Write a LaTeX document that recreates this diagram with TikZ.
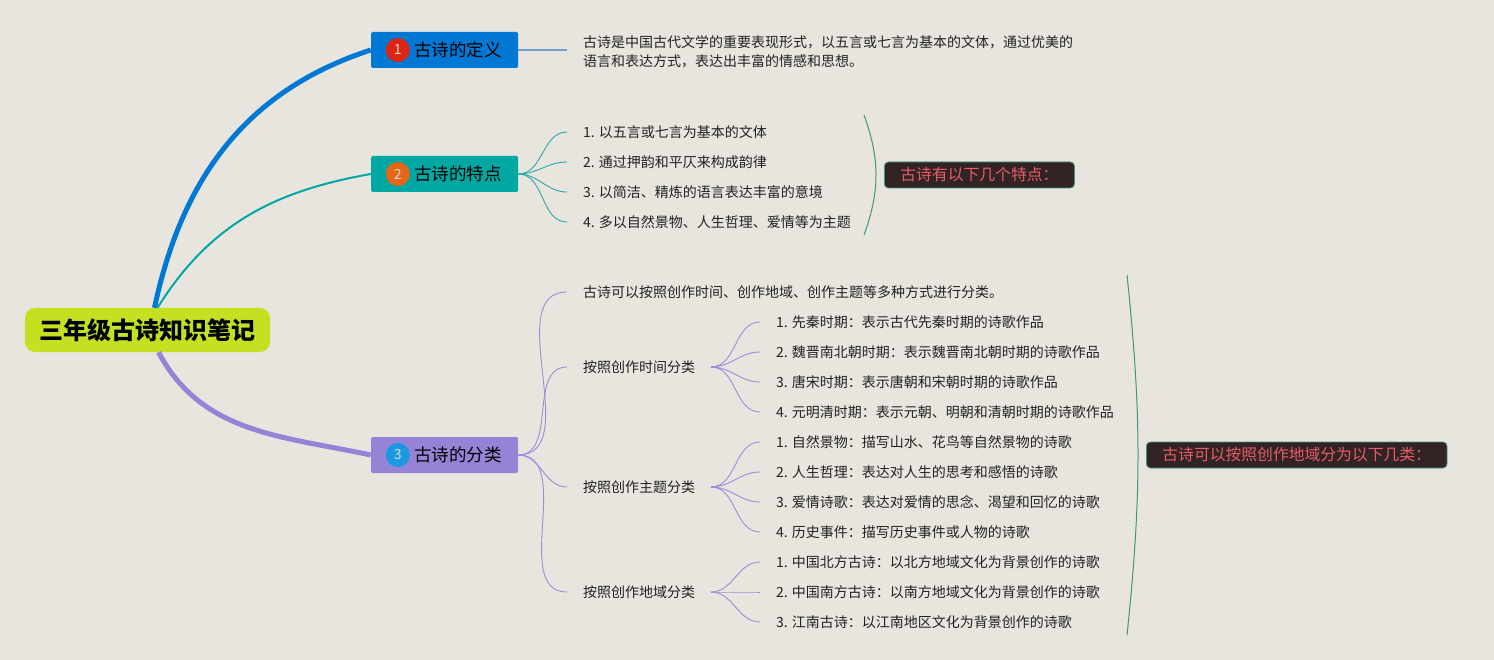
\documentclass[tikz,border=0pt]{standalone}
\usepackage{fontspec}
\setmainfont{Noto Sans CJK SC}
\usepackage{xcolor}
\usetikzlibrary{positioning,shapes}
\definecolor{paper}{RGB}{231,229,222}
\definecolor{lime}{RGB}{196,224,32}
\definecolor{blueA}{RGB}{0,120,212}
\definecolor{tealA}{RGB}{0,168,163}
\definecolor{purpleA}{RGB}{150,131,214}
\definecolor{redA}{RGB}{222,36,18}
\definecolor{orangeA}{RGB}{228,102,22}
\definecolor{skyA}{RGB}{28,152,226}
\definecolor{ink}{RGB}{34,34,34}
\definecolor{darkbox}{RGB}{50,36,36}
\definecolor{pinktext}{RGB}{232,92,104}
\definecolor{bracketc}{RGB}{64,150,124}
\definecolor{defline}{RGB}{110,160,205}
\definecolor{tealT}{RGB}{40,170,170}
\definecolor{purpleT}{RGB}{155,140,220}
\tikzset{
	every picture/.style={x=1pt, y=-1pt},
	every node/.style = {inner sep = 3, text=ink},
	root/.style = {fill=lime, rounded corners=10pt, minimum width=245pt, minimum height=44pt, font=\fontsize{24}{24}\selectfont\bfseries, text=black},
	branch/.style = {fill=#1, rounded corners=1.5pt, minimum width=147pt, minimum height=36pt, inner xsep=16pt, font=\fontsize{17.5}{17.5}\selectfont, text=black},
	badge/.style = {circle, fill=#1, minimum size=24pt, inner sep=0pt, font=\fontsize{14}{14}\selectfont, text=black!15},
	leaf/.style = {inner xsep=16pt, inner ysep=0pt, outer sep=0pt, minimum height=30pt, font=\fontsize{14}{17}\selectfont},
	sumbox/.style = {fill=darkbox, draw=bracketc, line width=0.8pt, rounded corners=4pt, minimum height=26pt, inner xsep=16pt, inner ysep=0pt, font=\fontsize{15.8}{16}\selectfont, text=pinktext},
	fan/.style = {draw=#1, line width=0.9pt},
}

\begin{document}
\begin{tikzpicture}
		\fill[paper] (0,0) rectangle (1494,660);
		\useasboundingbox (0,0) rectangle (1494,660);

		\node[root] (root) at (147.5,330) {三年级古诗知识笔记};
		\node[branch=blueA] (b1) at (444.5,50) {\hspace{27pt}古诗的定义};
		\node[branch=tealA] (b2) at (444.5,174) {\hspace{27pt}古诗的特点};
		\node[branch=purpleA] (b3) at (444.5,455) {\hspace{27pt}古诗的分类};
		\node[badge=redA] (n1) at ([xshift=27pt]b1.west) {1};
		\node[badge=orangeA] (n2) at ([xshift=27pt]b2.west) {2};
		\node[badge=skyA] (n3) at ([xshift=27pt]b3.west) {3};

		\draw[blueA, line width=5pt] ([xshift=7pt]root.north) to[out=78,in=198] (b1.west);
		\draw[tealA, line width=2pt] ([xshift=10pt]root.north) to[out=58,in=190] (b2.west);
		\draw[purpleA, line width=5pt] ([xshift=11pt]root.south) to[out=-62,in=168] (b3.west);

		\node[leaf, anchor=west, align=left, font=\fontsize{14}{19}\selectfont] (def) at (567,52) {古诗是中国古代文学的重要表现形式，以五言或七言为基本的文体，通过优美的\\语言和表达方式，表达出丰富的情感和思想。};
		\draw[defline, line width=1.5pt] (b1.east) -- (b1.east -| def.west);

		\node[leaf, anchor=west] (f1) at (567,132) {1. 以五言或七言为基本的文体};
		\node[leaf, below=0pt of f1.south west, anchor=north west] (f2) {2. 通过押韵和平仄来构成韵律};
		\node[leaf, below=0pt of f2.south west, anchor=north west] (f3) {3. 以简洁、精炼的语言表达丰富的意境};
		\node[leaf, below=0pt of f3.south west, anchor=north west] (f4) {4. 多以自然景物、人生哲理、爱情等为主题};
		\foreach \i in {1,...,4}
			\draw[fan=tealT] (b2.east) to[out=0,in=180] (f\i.west);

		\coordinate (k1a) at (864,115);
		\coordinate (k1b) at (864,235);
		\draw[bracketc, line width=1pt] (k1a) to[out=-70,in=70] (k1b);
		\node[sumbox, anchor=west] (s1) at (884,175) {古诗有以下几个特点：};

		\node[leaf, anchor=west] (c1) at (567,292) {古诗可以按照创作时间、创作地域、创作主题等多种方式进行分类。};
		\node[leaf, anchor=west] (g1) at (567,367) {按照创作时间分类};
		\node[leaf, anchor=west] (g2) at (567,487) {按照创作主题分类};
		\node[leaf, anchor=west] (g3) at (567,592) {按照创作地域分类};
		\foreach \g in {c1,g1,g2,g3}
			\draw[fan=purpleT] (b3.east) to[out=0,in=180] (\g.west);

		\node[leaf, anchor=west] (t1) at (760,322) {1. 先秦时期：表示古代先秦时期的诗歌作品};
		\node[leaf, below=0pt of t1.south west, anchor=north west] (t2) {2. 魏晋南北朝时期：表示魏晋南北朝时期的诗歌作品};
		\node[leaf, below=0pt of t2.south west, anchor=north west] (t3) {3. 唐宋时期：表示唐朝和宋朝时期的诗歌作品};
		\node[leaf, below=0pt of t3.south west, anchor=north west] (t4) {4. 元明清时期：表示元朝、明朝和清朝时期的诗歌作品};
		\node[leaf, below=0pt of t4.south west, anchor=north west] (t5) {1. 自然景物：描写山水、花鸟等自然景物的诗歌};
		\node[leaf, below=0pt of t5.south west, anchor=north west] (t6) {2. 人生哲理：表达对人生的思考和感悟的诗歌};
		\node[leaf, below=0pt of t6.south west, anchor=north west] (t7) {3. 爱情诗歌：表达对爱情的思念、渴望和回忆的诗歌};
		\node[leaf, below=0pt of t7.south west, anchor=north west] (t8) {4. 历史事件：描写历史事件或人物的诗歌};
		\node[leaf, below=0pt of t8.south west, anchor=north west] (t9) {1. 中国北方古诗：以北方地域文化为背景创作的诗歌};
		\node[leaf, below=0pt of t9.south west, anchor=north west] (t10) {2. 中国南方古诗：以南方地域文化为背景创作的诗歌};
		\node[leaf, below=0pt of t10.south west, anchor=north west] (t11) {3. 江南古诗：以江南地区文化为背景创作的诗歌};
		\foreach \i in {1,...,4}
			\draw[fan=purpleT] (g1.east) to[out=0,in=180] (t\i.west);
		\foreach \i in {5,...,8}
			\draw[fan=purpleT] (g2.east) to[out=0,in=180] (t\i.west);
		\foreach \i in {9,...,11}
			\draw[fan=purpleT] (g3.east) to[out=0,in=180] (t\i.west);

		\coordinate (k2a) at (1127,275);
		\coordinate (k2b) at (1127,635);
		\draw[bracketc, line width=1pt] (k2a) to[out=-84,in=84] (k2b);
		\node[sumbox, anchor=west] (s2) at (1146,455) {古诗可以按照创作地域分为以下几类：};
\end{tikzpicture}
\end{document}
